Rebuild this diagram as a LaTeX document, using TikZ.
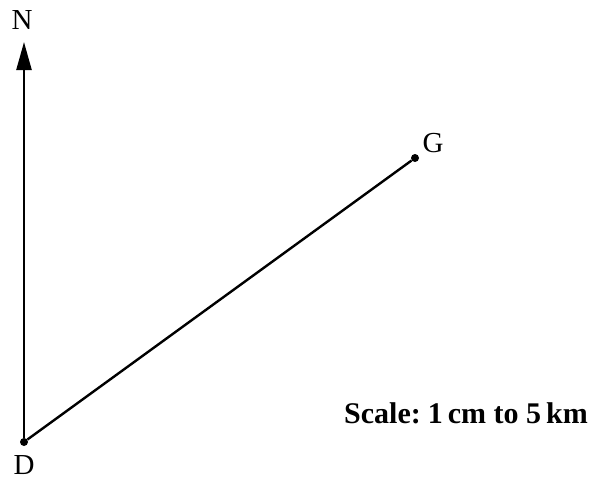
\documentclass[tikz,border=0pt]{standalone}
\usepackage{fontspec}
\setmainfont{Liberation Serif}
\usetikzlibrary{arrows.meta, positioning}
\tikzstyle{point} = [circle, fill=black, inner sep=0pt, minimum size=8pt]
\tikzstyle{bearing} = [line width=2.4pt]
\tikzstyle{arrow} = [line width=2.4pt, -{Triangle[length=28pt, width=15pt]}]

\begin{document}
\begin{tikzpicture}[x=1pt, y=-1pt, every node/.style={font=\fontsize{29}{32}\selectfont}]
  \useasboundingbox (0,0) rectangle (592,480);
  \node[point] (D) at (24,442) {};
  \node[point] (G) at (415,158) {};
  \coordinate (N) at (24,42);

  % Labels
  \node (Nlabel) at (22,20) {N};
  \node (Glabel) at (433,143) {G};
  \node (Dlabel) at (24,465) {D};
  \node[font=\bfseries\fontsize{30}{34}\selectfont] (scale) at (466,413) {Scale:\hspace{-0.1em} 1\,cm to 5\,km};

  % Lines
  \draw[arrow] (D) -- (N);
  \draw[bearing] (D) -- (G);
\end{tikzpicture}
\end{document}
